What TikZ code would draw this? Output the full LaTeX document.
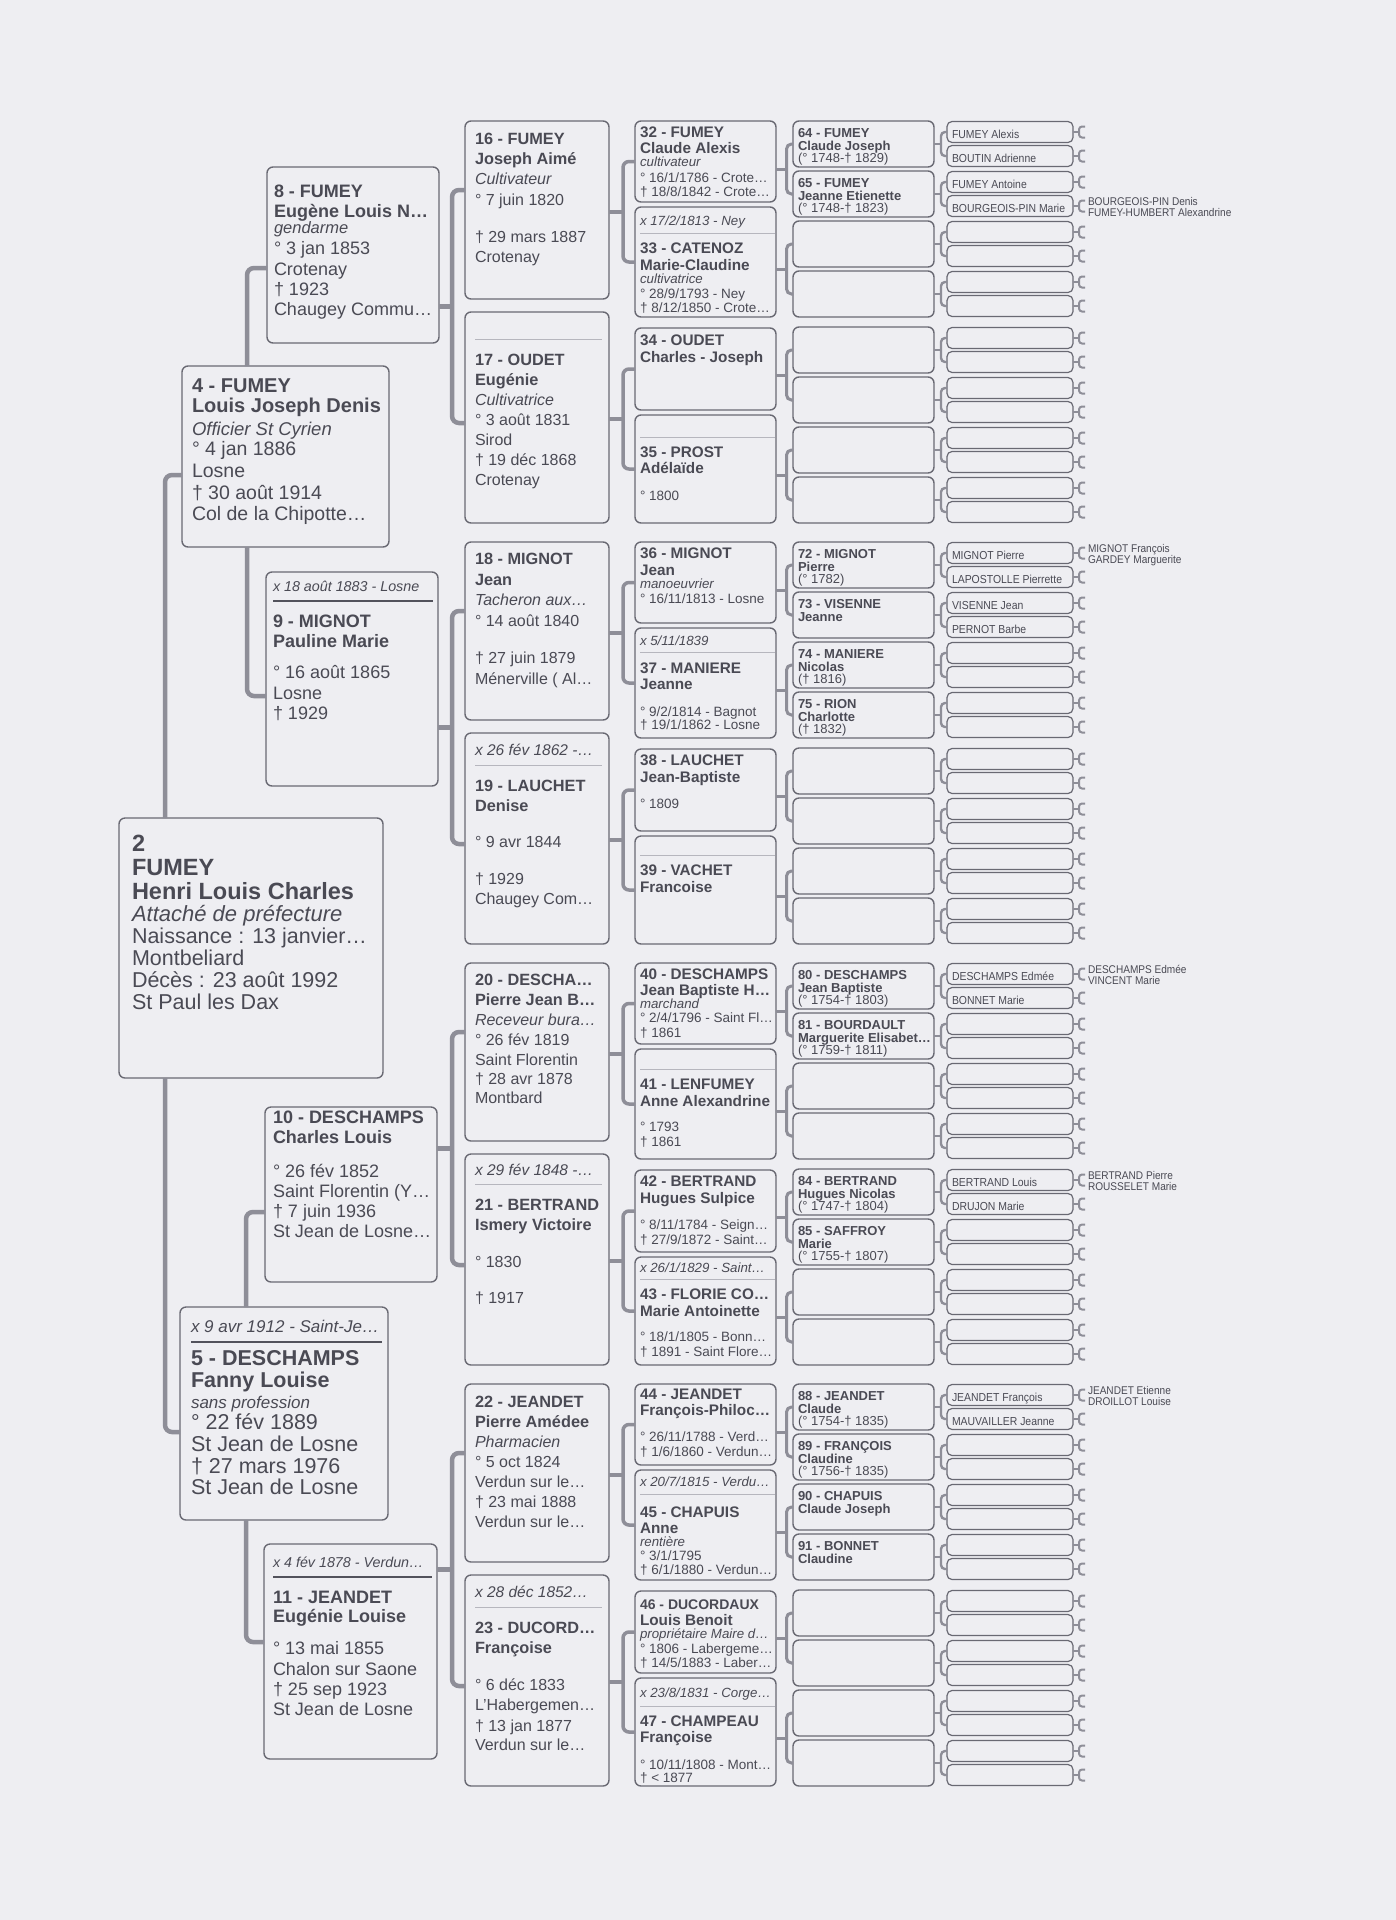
\documentclass[tikz,border=0pt]{standalone}
\usepackage{fontspec}
\setmainfont{Liberation Sans}
\newfontfamily\narrowsans[FakeStretch=0.9]{Liberation Sans}
\usetikzlibrary{calc}
\definecolor{bgc}{RGB}{238,238,242}
\definecolor{lnc}{RGB}{142,142,152}
\definecolor{bdc}{RGB}{105,105,115}
\definecolor{txc}{RGB}{74,74,84}
\definecolor{rlc}{RGB}{82,82,92}
\definecolor{rlt}{RGB}{182,182,190}
\newcommand\fz[1]{\fontsize{#1}{#1}\selectfont}
\newcommand\GAb{\fz{23.5}\bfseries}
\newcommand\GAi{\fz{22}\itshape}
\newcommand\GAr{\fz{21.5}}
\newcommand\GBb{\fz{20}\bfseries}
\newcommand\GBi{\fz{18.5}\itshape}
\newcommand\GBr{\fz{19.5}}
\newcommand\GCb{\fz{21.5}\bfseries}
\newcommand\GCi{\fz{17}\itshape}
\newcommand\GCr{\fz{21.5}}
\newcommand\GDb{\fz{18}\bfseries}
\newcommand\GDi{\fz{16.5}\itshape}
\newcommand\GDh{\fz{14.3}\itshape}
\newcommand\GDr{\fz{18}}
\newcommand\GEb{\fz{16.3}\bfseries}
\newcommand\GEi{\fz{16}\itshape}
\newcommand\GEh{\fz{15.5}\itshape}
\newcommand\GEr{\fz{16}}
\newcommand\GFb{\fz{15.3}\bfseries}
\newcommand\GFi{\fz{13.3}\itshape}
\newcommand\GFr{\fz{13.5}}
\newcommand\GGb{\fz{13}\bfseries}
\newcommand\GGr{\fz{13}}
\newcommand\GH{\narrowsans\fz{11.6}}
\newcommand\GI{\narrowsans\fz{11.2}}
\newcounter{tln}
\newcommand\txl[4]{\stepcounter{tln}\node[tl,font=#3] (L\arabic{tln}) at (#1,#2) {#4};}
\tikzset{
 bx/.style={draw=bdc,line width=1.4pt,rounded corners=6pt,fill=bgc,inner sep=0pt,outer sep=0pt,anchor=north west},
 bxs/.style={draw=bdc,line width=1.2pt,rounded corners=5pt,fill=bgc,inner sep=0pt,outer sep=0pt,anchor=north west},
 tl/.style={anchor=base west,inner sep=0pt,outer sep=0pt,text=txc},
 c1/.style={draw=lnc,line width=4.5pt,rounded corners=7pt},
 c2/.style={draw=lnc,line width=3.5pt,rounded corners=6pt},
 c3/.style={draw=lnc,line width=3pt,rounded corners=5pt},
 c4/.style={draw=lnc,line width=2.4pt,rounded corners=4pt},
 c5/.style={draw=lnc,line width=2pt,rounded corners=3pt},
 rdark/.style={draw=rlc,line width=1.6pt},
 rlight/.style={draw=rlt,line width=1pt},
}
\begin{document}
\begin{tikzpicture}[x=1pt,y=-1pt]
\fill[bgc] (0,0) rectangle (1396,1920);
\useasboundingbox (0,0) rectangle (1396,1920);

% generations 1-3
\node[bx,minimum width=264pt,minimum height=260pt] (b2) at (119,818) {};
\node[bx,minimum width=207pt,minimum height=181pt] (b4) at (182,366) {};
\node[bx,minimum width=208pt,minimum height=213pt] (b5) at (180,1307) {};
\node[bx,minimum width=172pt,minimum height=176pt] (b8) at (267,167) {};
\node[bx,minimum width=172pt,minimum height=214pt] (b9) at (266,572) {};
\node[bx,minimum width=172pt,minimum height=175pt] (b10) at (265,1107) {};
\node[bx,minimum width=173pt,minimum height=215pt] (b11) at (264,1544) {};

% generations 4-7
\foreach \k in {0,1,2,3}{
  \pgfmathsetmacro\T{121+421*\k}
  \pgfmathtruncatemacro\hb{16+2*\k}
  \pgfmathtruncatemacro\wb{17+2*\k}
  \node[bx,minimum width=144pt,minimum height=178pt] (b\hb) at (465,\T) {};
  \node[bx,minimum width=144pt,minimum height=211pt] (b\wb) at (465,\T+191) {};
  \foreach \o/\hh [count=\i from 0] in {0/81,86/110,207/82,294/108}{
    \pgfmathtruncatemacro\gn{32+4*\k+\i}
    \node[bx,minimum width=141pt,minimum height=\hh pt] (b\gn) at (635,\T+\o) {};
  }
  \foreach \o [count=\i from 0] in {0,50,100,150,206,256,306,356}{
    \pgfmathtruncatemacro\gn{64+8*\k+\i}
    \pgfmathtruncatemacro\ma{2*\gn}
    \pgfmathtruncatemacro\mb{2*\gn+1}
    \node[bx,minimum width=141pt,minimum height=46pt] (b\gn) at (793,\T+\o) {};
    \node[bxs,minimum width=126pt,minimum height=21pt] (b\ma) at (947,\T+\o+0.5) {};
    \node[bxs,minimum width=126pt,minimum height=21pt] (b\mb) at (947,\T+\o+24.5) {};
    \draw[c4] (b\ma.west) -- (941,\T+\o+11) -- (941,\T+\o+35) -- (b\mb.west);
    \draw[c4] (b\gn.east) -- (941,\T+\o+23);
    \foreach \q in {\ma,\mb}{
      \draw[c5] (b\q.east) -- ++(6,0);
      \draw[c5] ($(b\q.east)+(12,-5.5)$) -- ++(-6,0) -- ++(0,11) -- ++(6,0);
    }
  }
}

% connectors gen 1-3
\draw[c1] (b2.north -| 165,0) -- (165,475) -- (b4.west |- 0,475);
\draw[c1] (b2.south -| 165,0) -- (165,1432) -- (b5.west |- 0,1432);
\draw[c1] (b4.north -| 247,0) -- (247,268) -- (b8.west |- 0,268);
\draw[c1] (b4.south -| 247,0) -- (247,696) -- (b9.west |- 0,696);
\draw[c1] (b5.north -| 246,0) -- (246,1212) -- (b10.west |- 0,1212);
\draw[c1] (b5.south -| 246,0) -- (246,1642) -- (b11.west |- 0,1642);
% connectors gen 3-4
\foreach \k in {0,1,2,3}{
  \pgfmathsetmacro\T{121+421*\k}
  \pgfmathtruncatemacro\p{8+\k}
  \pgfmathtruncatemacro\hb{16+2*\k}
  \pgfmathtruncatemacro\wb{17+2*\k}
  \draw[c1] (b\hb.west |- 0,\T+69) -- (452,\T+69) -- (452,\T+302) -- (b\wb.west |- 0,\T+302);
  \draw[c1] (b\p.east |- 0,\T+185.5) -- (452,\T+185.5);
}
% connectors gen 4-5
\foreach \p in {16,...,23}{
  \pgfmathtruncatemacro\ca{2*\p}
  \pgfmathtruncatemacro\cb{2*\p+1}
  \draw[c2] (b\ca.west) -- (b\ca.west -| 623,0) -- (b\cb.west -| 623,0) -- (b\cb.west);
  \coordinate (m\p) at ($(b\ca.west)!0.5!(b\cb.west)$);
  \draw[c2] (b\p.east |- m\p) -- (m\p -| 623,0);
}
% connectors gen 5-6
\foreach \p in {32,...,47}{
  \pgfmathtruncatemacro\ca{2*\p}
  \pgfmathtruncatemacro\cb{2*\p+1}
  \draw[c3] (b\ca.west) -- (b\ca.west -| 786.5,0) -- (b\cb.west -| 786.5,0) -- (b\cb.west);
  \coordinate (m\p) at ($(b\ca.west)!0.5!(b\cb.west)$);
  \draw[c3] (b\p.east |- m\p) -- (m\p -| 786.5,0);
}

% header rules
\draw[rdark] ($(b5.north west)+(11,35)$) -- ($(b5.north east)+(-6,35)$);
\draw[rdark] ($(b9.north west)+(7,29)$) -- ($(b9.north east)+(-5,29)$);
\draw[rdark] ($(b11.north west)+(9,33)$) -- ($(b11.north east)+(-5,33)$);
\foreach \b/\d in {17/27,19/32,21/30,23/32}{
  \draw[rlight] ($(b\b.north west)+(10,\d)$) -- ($(b\b.north east)+(-7,\d)$);
}
\foreach \b/\d in {33/26,35/22,37/24,39/19,41/20,43/22,45/24,47/28}{
  \draw[rlight] ($(b\b.north west)+(5,\d)$) -- ($(b\b.north east)+(-1,\d)$);
}

% ---- texts gen1
\txl{132}{851}{\GAb}{2}
\txl{132}{875}{\GAb}{FUMEY}
\txl{132}{899}{\GAb}{Henri Louis Charles}
\txl{132}{921}{\GAi}{Attaché de préfecture}
\txl{132}{943}{\GAr}{Naissance : 13 janvier…}
\txl{132}{965}{\GAr}{Montbeliard}
\txl{132}{987}{\GAr}{Décès : 23 août 1992}
\txl{132}{1009}{\GAr}{St Paul les Dax}
% gen2
\txl{192}{392}{\GBb}{4 - FUMEY}
\txl{192}{412}{\GBb}{Louis Joseph Denis}
\txl{192}{435}{\GBi}{Officier St Cyrien}
\txl{192}{455}{\GBr}{° 4 jan 1886}
\txl{192}{477}{\GBr}{Losne}
\txl{192}{499}{\GBr}{† 30 août 1914}
\txl{192}{520}{\GBr}{Col de la Chipotte…}
\txl{191}{1332}{\GCi}{x 9 avr 1912 - Saint-Je…}
\txl{191}{1365}{\GCb}{5 - DESCHAMPS}
\txl{191}{1387}{\GCb}{Fanny Louise}
\txl{191}{1408}{\GCi}{sans profession}
\txl{191}{1429}{\GCr}{° 22 fév 1889}
\txl{191}{1451}{\GCr}{St Jean de Losne}
\txl{191}{1473}{\GCr}{† 27 mars 1976}
\txl{191}{1494}{\GCr}{St Jean de Losne}
% gen3
\txl{274}{197}{\GDb}{8 - FUMEY}
\txl{274}{217}{\GDb}{Eugène Louis N…}
\txl{274}{233}{\GDi}{gendarme}
\txl{274}{254}{\GDr}{° 3 jan 1853}
\txl{274}{275}{\GDr}{Crotenay}
\txl{274}{295}{\GDr}{† 1923}
\txl{274}{315}{\GDr}{Chaugey Commu…}
\txl{273}{591}{\GDh}{x 18 août 1883 - Losne}
\txl{273}{627}{\GDb}{9 - MIGNOT}
\txl{273}{647}{\GDb}{Pauline Marie}
\txl{273}{678}{\GDr}{° 16 août 1865}
\txl{273}{699}{\GDr}{Losne}
\txl{273}{719}{\GDr}{† 1929}
\txl{273}{1123}{\GDb}{10 - DESCHAMPS}
\txl{273}{1143}{\GDb}{Charles Louis}
\txl{273}{1177}{\GDr}{° 26 fév 1852}
\txl{273}{1197}{\GDr}{Saint Florentin (Y…}
\txl{273}{1217}{\GDr}{† 7 juin 1936}
\txl{273}{1237}{\GDr}{St Jean de Losne…}
\txl{273}{1567}{\GDh}{x 4 fév 1878 - Verdun…}
\txl{273}{1603}{\GDb}{11 - JEANDET}
\txl{273}{1622}{\GDb}{Eugénie Louise}
\txl{273}{1654}{\GDr}{° 13 mai 1855}
\txl{273}{1675}{\GDr}{Chalon sur Saone}
\txl{273}{1695}{\GDr}{† 25 sep 1923}
\txl{273}{1715}{\GDr}{St Jean de Losne}
% gen4
\txl{475}{144}{\GEb}{16 - FUMEY}
\txl{475}{164.5}{\GEb}{Joseph Aimé}
\txl{475}{184.5}{\GEi}{Cultivateur}
\txl{475}{205}{\GEr}{° 7 juin 1820}
\txl{475}{242}{\GEr}{† 29 mars 1887}
\txl{475}{262}{\GEr}{Crotenay}
\txl{475}{365}{\GEb}{17 - OUDET}
\txl{475}{385}{\GEb}{Eugénie}
\txl{475}{405}{\GEi}{Cultivatrice}
\txl{475}{425}{\GEr}{° 3 août 1831}
\txl{475}{445}{\GEr}{Sirod}
\txl{475}{465}{\GEr}{† 19 déc 1868}
\txl{475}{485}{\GEr}{Crotenay}
\txl{475}{564}{\GEb}{18 - MIGNOT}
\txl{475}{585}{\GEb}{Jean}
\txl{475}{605}{\GEi}{Tacheron aux…}
\txl{475}{626}{\GEr}{° 14 août 1840}
\txl{475}{663}{\GEr}{† 27 juin 1879}
\txl{475}{684}{\GEr}{Ménerville ( Al…}
\txl{475}{755}{\GEh}{x 26 fév 1862 -…}
\txl{475}{791}{\GEb}{19 - LAUCHET}
\txl{475}{811}{\GEb}{Denise}
\txl{475}{847}{\GEr}{° 9 avr 1844}
\txl{475}{884}{\GEr}{† 1929}
\txl{475}{904}{\GEr}{Chaugey Com…}
\txl{475}{985}{\GEb}{20 - DESCHA…}
\txl{475}{1005}{\GEb}{Pierre Jean B…}
\txl{475}{1025}{\GEi}{Receveur bura…}
\txl{475}{1045}{\GEr}{° 26 fév 1819}
\txl{475}{1065}{\GEr}{Saint Florentin}
\txl{475}{1084}{\GEr}{† 28 avr 1878}
\txl{475}{1103}{\GEr}{Montbard}
\txl{475}{1175}{\GEh}{x 29 fév 1848 -…}
\txl{475}{1210}{\GEb}{21 - BERTRAND}
\txl{475}{1230}{\GEb}{Ismery Victoire}
\txl{475}{1267}{\GEr}{° 1830}
\txl{475}{1303}{\GEr}{† 1917}
\txl{475}{1407}{\GEb}{22 - JEANDET}
\txl{475}{1427}{\GEb}{Pierre Amédee}
\txl{475}{1447}{\GEi}{Pharmacien}
\txl{475}{1467}{\GEr}{° 5 oct 1824}
\txl{475}{1487}{\GEr}{Verdun sur le…}
\txl{475}{1507}{\GEr}{† 23 mai 1888}
\txl{475}{1527}{\GEr}{Verdun sur le…}
\txl{475}{1597}{\GEh}{x 28 déc 1852…}
\txl{475}{1633}{\GEb}{23 - DUCORD…}
\txl{475}{1653}{\GEb}{Françoise}
\txl{475}{1690}{\GEr}{° 6 déc 1833}
\txl{475}{1710}{\GEr}{L'Habergemen…}
\txl{475}{1731}{\GEr}{† 13 jan 1877}
\txl{475}{1750}{\GEr}{Verdun sur le…}
% gen5
\txl{640}{137}{\GFb}{32 - FUMEY}
\txl{640}{153}{\GFb}{Claude Alexis}
\txl{640}{166}{\GFi}{cultivateur}
\txl{640}{182}{\GFr}{° 16/1/1786 - Crote…}
\txl{640}{196}{\GFr}{† 18/8/1842 - Crote…}
\txl{640}{225}{\GFi}{x 17/2/1813 - Ney}
\txl{640}{253}{\GFb}{33 - CATENOZ}
\txl{640}{270}{\GFb}{Marie-Claudine}
\txl{640}{283}{\GFi}{cultivatrice}
\txl{640}{298}{\GFr}{° 28/9/1793 - Ney}
\txl{640}{312}{\GFr}{† 8/12/1850 - Crote…}
\txl{640}{345}{\GFb}{34 - OUDET}
\txl{640}{362}{\GFb}{Charles - Joseph}
\txl{640}{457}{\GFb}{35 - PROST}
\txl{640}{473}{\GFb}{Adélaïde}
\txl{640}{500}{\GFr}{° 1800}
\txl{640}{558}{\GFb}{36 - MIGNOT}
\txl{640}{575}{\GFb}{Jean}
\txl{640}{588}{\GFi}{manoeuvrier}
\txl{640}{603}{\GFr}{° 16/11/1813 - Losne}
\txl{640}{645}{\GFi}{x 5/11/1839}
\txl{640}{673}{\GFb}{37 - MANIERE}
\txl{640}{689}{\GFb}{Jeanne}
\txl{640}{716}{\GFr}{° 9/2/1814 - Bagnot}
\txl{640}{729}{\GFr}{† 19/1/1862 - Losne}
\txl{640}{765}{\GFb}{38 - LAUCHET}
\txl{640}{782}{\GFb}{Jean-Baptiste}
\txl{640}{808}{\GFr}{° 1809}
\txl{640}{875}{\GFb}{39 - VACHET}
\txl{640}{892}{\GFb}{Francoise}
\txl{640}{979}{\GFb}{40 - DESCHAMPS}
\txl{640}{995}{\GFb}{Jean Baptiste H…}
\txl{640}{1008}{\GFi}{marchand}
\txl{640}{1022}{\GFr}{° 2/4/1796 - Saint Fl…}
\txl{640}{1037}{\GFr}{† 1861}
\txl{640}{1089}{\GFb}{41 - LENFUMEY}
\txl{640}{1106}{\GFb}{Anne Alexandrine}
\txl{640}{1131}{\GFr}{° 1793}
\txl{640}{1146}{\GFr}{† 1861}
\txl{640}{1186}{\GFb}{42 - BERTRAND}
\txl{640}{1203}{\GFb}{Hugues Sulpice}
\txl{640}{1229}{\GFr}{° 8/11/1784 - Seign…}
\txl{640}{1244}{\GFr}{† 27/9/1872 - Saint…}
\txl{640}{1272}{\GFi}{x 26/1/1829 - Saint…}
\txl{640}{1299}{\GFb}{43 - FLORIE CO…}
\txl{640}{1316}{\GFb}{Marie Antoinette}
\txl{640}{1341}{\GFr}{° 18/1/1805 - Bonn…}
\txl{640}{1356}{\GFr}{† 1891 - Saint Flore…}
\txl{640}{1399}{\GFb}{44 - JEANDET}
\txl{640}{1415}{\GFb}{François-Philoc…}
\txl{640}{1441}{\GFr}{° 26/11/1788 - Verd…}
\txl{640}{1456}{\GFr}{† 1/6/1860 - Verdun…}
\txl{640}{1486}{\GFi}{x 20/7/1815 - Verdu…}
\txl{640}{1517}{\GFb}{45 - CHAPUIS}
\txl{640}{1533}{\GFb}{Anne}
\txl{640}{1546}{\GFi}{rentière}
\txl{640}{1560}{\GFr}{° 3/1/1795}
\txl{640}{1574}{\GFr}{† 6/1/1880 - Verdun…}
\txl{640}{1609}{\fz{14}\bfseries}{46 - DUCORDAUX}
\txl{640}{1625}{\GFb}{Louis Benoit}
\txl{640}{1638}{\GFi}{propriétaire Maire d…}
\txl{640}{1653}{\GFr}{° 1806 - Labergeme…}
\txl{640}{1667}{\GFr}{† 14/5/1883 - Laber…}
\txl{640}{1697}{\GFi}{x 23/8/1831 - Corge…}
\txl{640}{1726}{\GFb}{47 - CHAMPEAU}
\txl{640}{1742}{\GFb}{Françoise}
\txl{640}{1769}{\GFr}{° 10/11/1808 - Mont…}
\txl{640}{1782}{\GFr}{† < 1877}
% gen6
\txl{798}{137.5}{\GGb}{64 - FUMEY}
\txl{798}{150}{\GGb}{Claude Joseph}
\txl{798}{162.5}{\GGr}{(° 1748-† 1829)}
\txl{798}{187.5}{\GGb}{65 - FUMEY}
\txl{798}{200}{\GGb}{Jeanne Etienette}
\txl{798}{212.5}{\GGr}{(° 1748-† 1823)}
\txl{798}{558.5}{\GGb}{72 - MIGNOT}
\txl{798}{571}{\GGb}{Pierre}
\txl{798}{583.5}{\GGr}{(° 1782)}
\txl{798}{608.5}{\GGb}{73 - VISENNE}
\txl{798}{621}{\GGb}{Jeanne}
\txl{798}{658.5}{\GGb}{74 - MANIERE}
\txl{798}{671}{\GGb}{Nicolas}
\txl{798}{683.5}{\GGr}{(† 1816)}
\txl{798}{708.5}{\GGb}{75 - RION}
\txl{798}{721}{\GGb}{Charlotte}
\txl{798}{733.5}{\GGr}{(† 1832)}
\txl{798}{979.5}{\GGb}{80 - DESCHAMPS}
\txl{798}{992}{\GGb}{Jean Baptiste}
\txl{798}{1004.5}{\GGr}{(° 1754-† 1803)}
\txl{798}{1029.5}{\GGb}{81 - BOURDAULT}
\txl{798}{1042}{\GGb}{Marguerite Elisabet…}
\txl{798}{1054.5}{\GGr}{(° 1759-† 1811)}
\txl{798}{1185.5}{\GGb}{84 - BERTRAND}
\txl{798}{1198}{\GGb}{Hugues Nicolas}
\txl{798}{1210.5}{\GGr}{(° 1747-† 1804)}
\txl{798}{1235.5}{\GGb}{85 - SAFFROY}
\txl{798}{1248}{\GGb}{Marie}
\txl{798}{1260.5}{\GGr}{(° 1755-† 1807)}
\txl{798}{1400.5}{\GGb}{88 - JEANDET}
\txl{798}{1413}{\GGb}{Claude}
\txl{798}{1425.5}{\GGr}{(° 1754-† 1835)}
\txl{798}{1450.5}{\GGb}{89 - FRANÇOIS}
\txl{798}{1463}{\GGb}{Claudine}
\txl{798}{1475.5}{\GGr}{(° 1756-† 1835)}
\txl{798}{1500.5}{\GGb}{90 - CHAPUIS}
\txl{798}{1513}{\GGb}{Claude Joseph}
\txl{798}{1550.5}{\GGb}{91 - BONNET}
\txl{798}{1563}{\GGb}{Claudine}
% gen7
\txl{952}{138}{\GH}{FUMEY Alexis}
\txl{952}{162}{\GH}{BOUTIN Adrienne}
\txl{952}{188}{\GH}{FUMEY Antoine}
\txl{952}{212}{\GH}{BOURGEOIS-PIN Marie}
\txl{952}{559}{\GH}{MIGNOT Pierre}
\txl{952}{583}{\GH}{LAPOSTOLLE Pierrette}
\txl{952}{609}{\GH}{VISENNE Jean}
\txl{952}{633}{\GH}{PERNOT Barbe}
\txl{952}{980}{\GH}{DESCHAMPS Edmée}
\txl{952}{1004}{\GH}{BONNET Marie}
\txl{952}{1186}{\GH}{BERTRAND Louis}
\txl{952}{1210}{\GH}{DRUJON Marie}
\txl{952}{1401}{\GH}{JEANDET François}
\txl{952}{1425}{\GH}{MAUVAILLER Jeanne}
% gen8
\txl{1088}{205.5}{\GI}{BOURGEOIS-PIN Denis}
\txl{1088}{216.5}{\GI}{FUMEY-HUMBERT Alexandrine}
\txl{1088}{552.5}{\GI}{MIGNOT François}
\txl{1088}{563.5}{\GI}{GARDEY Marguerite}
\txl{1088}{973.5}{\GI}{DESCHAMPS Edmée}
\txl{1088}{984.5}{\GI}{VINCENT Marie}
\txl{1088}{1179.5}{\GI}{BERTRAND Pierre}
\txl{1088}{1190.5}{\GI}{ROUSSELET Marie}
\txl{1088}{1394.5}{\GI}{JEANDET Etienne}
\txl{1088}{1405.5}{\GI}{DROILLOT Louise}
\end{tikzpicture}
\end{document}
